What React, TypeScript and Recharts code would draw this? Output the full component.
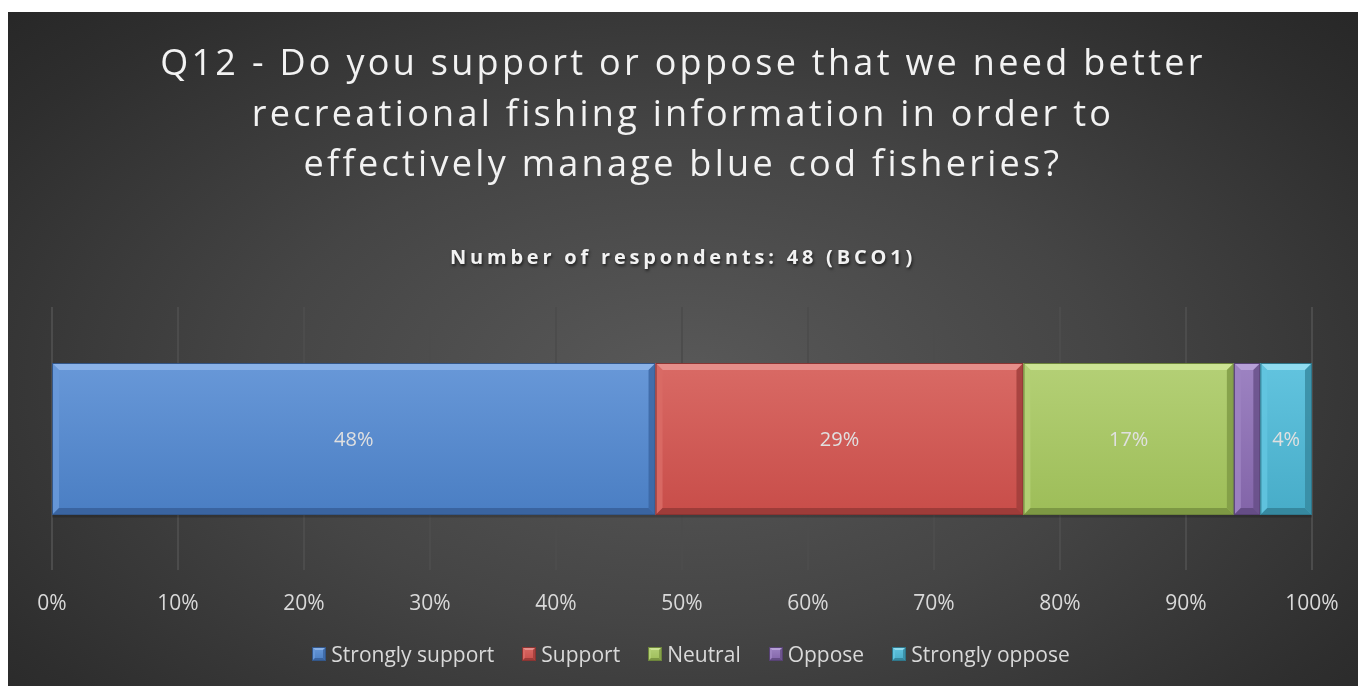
import React from "react";
import { BarChart, Bar, XAxis, YAxis, CartesianGrid, Legend, LabelList } from "recharts";

const categories = ["BCO1"];
const seriesNames = ["Strongly support", "Support", "Neutral", "Oppose", "Strongly oppose"];
const stronglySupport = [47.9];
const support = [29.2];
const neutral = [16.7];
const oppose = [2.1];
const stronglyOppose = [4.1];
const xTicks = [0, 10, 20, 30, 40, 50, 60, 70, 80, 90, 100];
const titleLines = [
  "Q12 - Do you support or oppose that we need better",
  "recreational fishing information in order to",
  "effectively manage blue cod fisheries?",
];
const subtitle = "Number of respondents: 48 (BCO1)";

const seriesKeys = ["ss", "s", "n", "o", "so"];
const seriesValues = [stronglySupport, support, neutral, oppose, stronglyOppose];
const showLabel = [true, true, true, false, true];

const PALETTE = [
  { hi: "#8ab2e8", top: "#6898d8", bot: "#4a7ec3", sh: "#3a64a0", line: "#33578a" },
  { hi: "#e68e8a", top: "#d96a65", bot: "#c84d49", sh: "#9e3c39", line: "#8a3432" },
  { hi: "#cce494", top: "#b4d076", bot: "#9dbd58", sh: "#7d9844", line: "#6d853b" },
  { hi: "#b7a0d8", top: "#9d83c2", bot: "#8264a8", sh: "#654d86", line: "#574274" },
  { hi: "#90dcf0", top: "#62c4df", bot: "#47acc8", sh: "#36889f", line: "#2f778b" },
];

const data = categories.map((c, i) => {
  const row: any = { name: c };
  seriesKeys.forEach((k, j) => (row[k] = seriesValues[j][i]));
  return row;
});

const FONT = "'Open Sans', 'Noto Sans', sans-serif";

function BevelRect({ x, y, width, height, pal, b, gid, shadow }: any) {
  if (!width || !height) return null;
  const bb = Math.min(b, width / 3, height / 3);
  const x2 = x + width;
  const y2 = y + height;
  return (
    <g>
      <defs>
        <linearGradient id={gid} x1="0" y1="0" x2="0" y2="1">
          <stop offset="0%" stopColor={pal.top} />
          <stop offset="100%" stopColor={pal.bot} />
        </linearGradient>
      </defs>
      {shadow && <rect x={x} y={y + 1} width={width} height={height + 1.5} fill="rgba(0,0,0,0.18)" />}
      <rect x={x} y={y} width={width} height={height} fill={`url(#${gid})`} />
      <polygon points={`${x},${y} ${x2},${y} ${x2 - bb},${y + bb} ${x + bb},${y + bb}`} fill={pal.hi} />
      <polygon points={`${x},${y} ${x + bb},${y + bb} ${x + bb},${y2 - bb} ${x},${y2}`} fill={pal.top} opacity={0.9} />
      <polygon points={`${x2},${y} ${x2},${y2} ${x2 - bb},${y2 - bb} ${x2 - bb},${y + bb}`} fill={pal.sh} opacity={0.8} />
      <polygon points={`${x},${y2} ${x + bb},${y2 - bb} ${x2 - bb},${y2 - bb} ${x2},${y2}`} fill={pal.sh} />
      <rect x={x + 0.5} y={y + 0.5} width={width - 1} height={height - 1} fill="none" stroke={pal.line} strokeWidth={1} />
    </g>
  );
}

const renderLegend = () => (
  <div
    style={{
      display: "flex",
      justifyContent: "center",
      alignItems: "center",
      height: 36,
      fontFamily: FONT,
      fontSize: 21,
      color: "#d9d9d9",
      paddingLeft: 18,
    }}
  >
    {seriesNames.map((n, i) => (
      <div key={n} style={{ display: "flex", alignItems: "center", marginRight: i < seriesNames.length - 1 ? 28 : 0 }}>
        <svg width={14} height={14} style={{ marginRight: 5 }}>
          <BevelRect x={0} y={0} width={14} height={14} pal={PALETTE[i]} b={3} gid={`lg${i}`} />
        </svg>
        <span>{n}</span>
      </div>
    ))}
  </div>
);

export default function App() {
  return (
    <div
      style={{
        position: "fixed",
        left: 8,
        top: 12,
        width: 1350,
        height: 674,
        background:
          "radial-gradient(ellipse 70% 80% at 50% 55%, #595959 0%, #454545 45%, #2e2e2e 85%, #272727 100%)",
        overflow: "hidden",
      }}
    >
      <div
        style={{
          position: "absolute",
          left: 0,
          top: 25,
          width: 1350,
          textAlign: "center",
          fontFamily: FONT,
          fontSize: 36,
          fontWeight: 400,
          lineHeight: "50.5px",
          letterSpacing: 3.3,
          color: "#f2f2f2",
        }}
      >
        {titleLines.map((l) => (
          <div key={l}>{l}</div>
        ))}
      </div>
      <div
        style={{
          position: "absolute",
          left: 0,
          top: 231,
          width: 1350,
          textAlign: "center",
          fontFamily: FONT,
          fontSize: 20,
          fontWeight: 700,
          letterSpacing: 3.8,
          color: "#f2f2f2",
          textShadow: "1px 2px 3px rgba(0,0,0,0.6)",
        }}
      >
        {subtitle}
      </div>
      <BarChart
        width={1350}
        height={674}
        data={data}
        layout="vertical"
        margin={{ top: 295, right: 46, bottom: 14, left: 44 }}
        barSize={152}
        style={{ position: "absolute", left: 0, top: 0 }}
      >
        <CartesianGrid vertical horizontal={false} stroke="#4c4c4c" strokeWidth={2} />
        <XAxis
          type="number"
          domain={[0, 100]}
          ticks={xTicks}
          allowDataOverflow
          tickFormatter={(v: number) => `${v}%`}
          axisLine={false}
          tickLine={false}
          tickSize={0}
          tickMargin={25}
          height={66}
          interval={0}
          tick={{ fill: "#d9d9d9", fontSize: 21, fontFamily: FONT }}
        />
        <YAxis type="category" dataKey="name" hide width={0} />
        <Legend verticalAlign="bottom" height={36} content={renderLegend} />
        {seriesKeys.map((k, i) => (
          <Bar
            key={k}
            dataKey={k}
            name={seriesNames[i]}
            stackId="a"
            isAnimationActive={false}
            fill={PALETTE[i].bot}
            shape={(p: any) => <BevelRect {...p} pal={PALETTE[i]} b={7} gid={`bg${i}`} shadow />}
          >
            {showLabel[i] && (
              <LabelList
                dataKey={k}
                position="center"
                formatter={(v: number) => `${Math.round(v)}%`}
                fill="#e0e0e0"
                fontSize={20}
                fontFamily={FONT}
              />
            )}
          </Bar>
        ))}
      </BarChart>
    </div>
  );
}
